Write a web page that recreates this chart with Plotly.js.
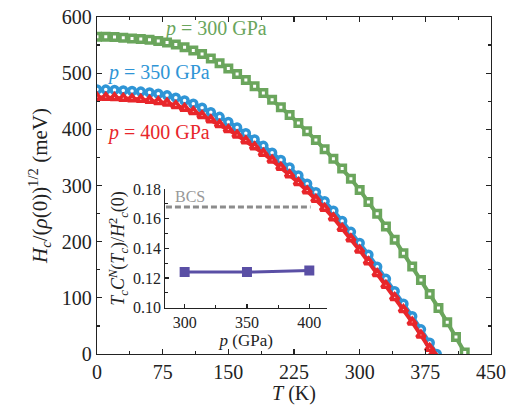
<!DOCTYPE html>
<html>
<head>
<meta charset="utf-8">
<script src="https://cdn.plot.ly/plotly-3.0.1.min.js"></script>
<style>html,body{margin:0;padding:0;background:#fff;}#chart{width:513px;height:405px;}</style>
</head>
<body>
<div id="chart"></div>
<script>
// Main panel: H_c/(rho(0))^{1/2} (meV) vs T (K)
const T300 = [0,10,20,30,40,50,60,70,80,90,100,110,120,130,140,150,160,170,180,190,200,210,220,230,240,250,260,270,280,290,300,310,320,330,340,350,360,370,380,390,400,410,420];
const H300 = [565,564.7,564.2,563.1,561.9,561,559.5,557.4,554.6,551.2,546.1,540.4,534.1,526.1,517.5,508.3,498.4,487.9,476.7,464.9,452.5,439.4,425.7,411.4,396.4,380.8,364.5,347.6,330.1,311.9,292.1,270.7,249.6,226.9,203.5,179.5,155.9,131.6,106.7,82.1,56.4,30.1,2.7];

const T350 = [0,10,20,30,40,50,60,70,80,90,100,110,120,130,140,150,160,170,180,190,200,210,220,230,240,250,260,270,280,290,300,310,320,330,340,350,360,370,380,388];
const H350 = [471,470.7,470.2,469.3,468.3,467.2,465.5,463.4,460.5,456.4,451.3,445.6,438.4,430.6,422.2,413.1,403.4,393.1,382.1,370.6,358.4,345.5,332.1,318.0,303.3,288.0,272.0,255.2,236.7,217.5,197.7,176.8,155.3,133.8,111.9,89.4,67.2,43.9,19.9,0];

const T400 = [0,10,20,30,40,50,60,70,80,90,100,110,120,130,140,150,160,170,180,190,200,210,220,230,240,250,260,270,280,290,300,310,320,330,340,350,360,370,380,384];
const H400 = [457,456.7,456.3,455.3,454.3,453.3,451.6,449.4,446.5,442.4,437.4,431.6,424.5,416.7,408.4,399.4,389.8,379.5,368.7,357.2,345.1,332.4,319.1,305.2,290.6,275.4,259.5,242.4,223.7,204.8,184.9,164.2,143.2,122.2,100.6,79.0,56.8,33.6,9.9,0];

// Inset: T_c C^N(T_c)/H_c^2(0) vs p (GPa)
const pInset = [300,350,400];
const ratioInset = [0.124,0.124,0.125];
const bcsP = [285,401];
const bcsVal = [0.168,0.168];

// Labels
const seriesLabels = ['<i>p</i> = 300 GPa','<i>p</i> = 350 GPa','<i>p</i> = 400 GPa'];
const xTicks = [0,75,150,225,300,375,450];
const yTicks = [0,100,200,300,400,500,600];
const insetXTicks = [300,350,400];
const insetYTicks = [0.10,0.12,0.14,0.16,0.18];

const GREEN = '#6aa55c', BLUE = '#2f95d6', RED = '#e8262b', PURPLE = '#5a4fa5', GRAY = '#8c8c8c';
const FONT = 'Liberation Serif';

function curve(x, y, color, symbol, size) {
  return {
    x: x, y: y, type: 'scatter', mode: 'lines+markers',
    xaxis: 'x', yaxis: 'y',
    line: {color: color, width: 4},
    marker: {symbol: symbol, size: size, color: '#ffffff', line: {color: color, width: 3.5}},
    hoverinfo: 'skip'
  };
}

const traces = [
  curve(T300, H300, GREEN, 'square', 6.5),
  curve(T350, H350, BLUE, 'circle', 7),
  curve(T400, H400, RED, 'triangle-up', 7.5),
  {x: bcsP, y: bcsVal, type: 'scatter', mode: 'lines', xaxis: 'x2', yaxis: 'y2',
   line: {color: GRAY, width: 3, dash: '6px,3px'}, hoverinfo: 'skip'},
  {x: pInset, y: ratioInset, type: 'scatter', mode: 'lines+markers', xaxis: 'x2', yaxis: 'y2',
   line: {color: PURPLE, width: 3}, marker: {symbol: 'square', size: 10, color: PURPLE}, hoverinfo: 'skip'}
];

const axisCommon = {
  showline: true, linecolor: '#222', linewidth: 1.3,
  ticks: 'inside', tickcolor: '#222', tickwidth: 1.2,
  showgrid: false, zeroline: false
};

const layout = {
  width: 513, height: 405,
  margin: {l: 97, r: 22, t: 17, b: 51, pad: 0},
  paper_bgcolor: '#ffffff', plot_bgcolor: 'rgba(0,0,0,0)',
  showlegend: false,
  font: {family: FONT, color: '#222', size: 20},
  xaxis: Object.assign({}, axisCommon, {
    range: [0, 450], tickmode: 'array', tickvals: xTicks, ticklen: 5, mirror: 'ticks',
    minor: {ticks: 'inside', ticklen: 3, dtick: 37.5, tick0: 0, tickcolor: '#222', tickwidth: 1.2},
    tickfont: {size: 20, family: FONT, color: '#222'},
    title: {text: '<i>T</i> (K)', font: {size: 20, family: FONT, color: '#222'}, standoff: 3}
  }),
  yaxis: Object.assign({}, axisCommon, {
    range: [0, 600], tickmode: 'array', tickvals: yTicks, ticklen: 5, mirror: 'ticks',
    minor: {ticks: 'inside', ticklen: 3, dtick: 50, tick0: 0, tickcolor: '#222', tickwidth: 1.2},
    tickfont: {size: 20, family: FONT, color: '#222'},
    title: {text: '<i>H</i><sub><i>c</i></sub>/(<i>ρ</i>(0))<sup>1/2</sup> (meV)', font: {size: 21, family: FONT, color: '#222'}, standoff: 8}
  }),
  xaxis2: Object.assign({}, axisCommon, {
    domain: [0.1734, 0.5838], anchor: 'y2', range: [284.5, 414.2],
    tickmode: 'array', tickvals: insetXTicks, ticklen: 4, linewidth: 1.2,
    minor: {ticks: 'inside', ticklen: 2.5, dtick: 25, tick0: 300, tickcolor: '#222', tickwidth: 1},
    tickfont: {size: 16, family: FONT, color: '#222'},
    title: {text: '<i>p</i> (GPa)', font: {size: 17, family: FONT, color: '#222'}, standoff: 2}
  }),
  yaxis2: Object.assign({}, axisCommon, {
    domain: [0.1375, 0.4892], anchor: 'x2', range: [0.10, 0.18],
    tickmode: 'array', tickvals: insetYTicks, tickformat: '.2f', ticklen: 4, linewidth: 1.2,
    minor: {ticks: 'inside', ticklen: 2.5, dtick: 0.01, tick0: 0.10, tickcolor: '#222', tickwidth: 1},
    tickfont: {size: 16, family: FONT, color: '#222'},
    title: {text: '<i>T</i><sub><i>c</i></sub><i>C</i><sup><i>N</i></sup>(<i>T</i><sub><i>c</i></sub>)/<i>H</i><sup>2</sup><sub><i>c</i></sub>(0)', font: {size: 18, family: FONT, color: '#222'}, standoff: 3}
  }),
  annotations: [
    {x: 74.6, y: 579, xref: 'x', yref: 'y', text: seriesLabels[0], showarrow: false, xanchor: 'left', yanchor: 'middle',
     font: {size: 20, family: FONT, color: GREEN}},
    {x: 9.5, y: 502, xref: 'x', yref: 'y', text: seriesLabels[1], showarrow: false, xanchor: 'left', yanchor: 'middle',
     font: {size: 20, family: FONT, color: BLUE}},
    {x: 9.5, y: 394, xref: 'x', yref: 'y', text: seriesLabels[2], showarrow: false, xanchor: 'left', yanchor: 'middle',
     font: {size: 20, family: FONT, color: RED}},
    {x: 290.5, y: 0.1748, xref: 'x2', yref: 'y2', text: 'BCS', showarrow: false, xanchor: 'left', yanchor: 'middle',
     font: {size: 16, family: FONT, color: '#999999'}}
  ]
};

Plotly.newPlot('chart', traces, layout, {staticPlot: true, displayModeBar: false});
</script>
</body>
</html>
